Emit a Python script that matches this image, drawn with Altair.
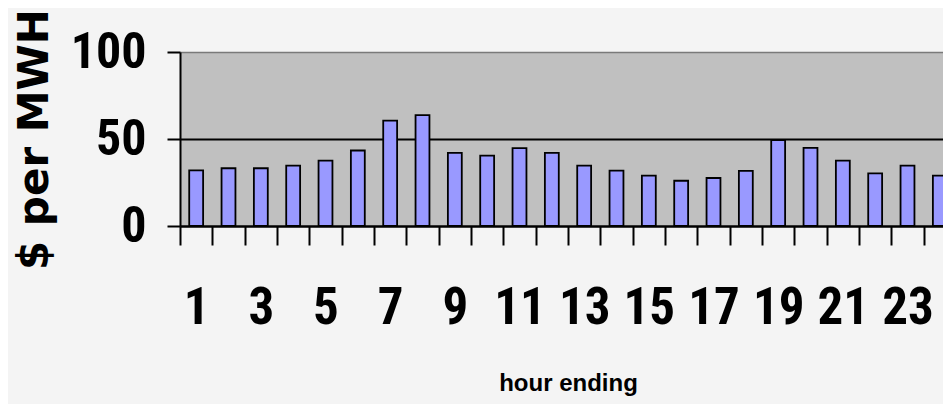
import altair as alt
import pandas as pd

hours = list(range(1, 25))
prices = [32, 33.2, 33.2, 34.7, 37.6, 43.4, 60.6, 63.7, 42, 40.5, 44.7, 42,
          34.7, 31.8, 29, 26, 27.6, 31.7, 49.3, 44.9, 37.6, 30.3, 34.7, 29]
y_ticks = [0, 50, 100]

df = pd.DataFrame({"hour": hours, "price": prices})

narrow = "Roboto Condensed, Liberation Sans Narrow, Arial Narrow, sans-serif"

chart = alt.Chart(df).mark_bar(
    fill="#9999ff", stroke="black", strokeWidth=1.8,
    width=alt.RelativeBandSize(0.43)
).encode(
    x=alt.X("hour:O",
            scale=alt.Scale(range=[0, 776], paddingInner=0, paddingOuter=0),
            axis=alt.Axis(
                title="hour ending",
                titleFont="Liberation Sans, Arial, sans-serif",
                titleFontSize=24, titleFontWeight="bold", titleColor="black",
                titleBaseline="alphabetic", titleAlign="center",
                titleX=388, titleY=164, titleAngle=0,
                labelFont=narrow, labelFontSize=51, labelFontWeight="bold",
                labelColor="black", labelAngle=0, labelPadding=38,
                labelExpr="datum.value % 2 == 1 ? datum.label : ''",
                labelOverlap=False,
                tickBand="extent", tickSize=19, tickWidth=2, tickColor="black",
                domainColor="black", domainWidth=2, grid=False)),
    y=alt.Y("price:Q",
            scale=alt.Scale(domain=[0, 100], nice=False),
            axis=alt.Axis(
                title="$ per MWH",
                titleFont="DejaVu Sans, sans-serif", titleFontSize=42,
                titleFontWeight="bold", titleColor="black",
                titleAngle=270, titleBaseline="alphabetic", titleAlign="center",
                titleX=-133, titleY=87,
                values=y_ticks,
                labelFont=narrow, labelFontSize=50, labelFontWeight="bold",
                labelColor="black", labelPadding=21,
                tickSize=13, tickWidth=2, tickColor="black",
                domainColor="black", domainWidth=2,
                grid=True,
                gridColor=alt.condition("datum.value == 100", alt.value("#7a7a7a"), alt.value("black")),
                gridWidth=alt.condition("datum.value == 100", alt.value(1.5), alt.value(2)),
                gridOpacity=1)),
).properties(
    width=763, height=174,
    autosize=alt.AutoSizeParams(type="none"),
    padding={"left": 172, "top": 44, "right": 0, "bottom": 178},
    background="#f4f4f4",
).configure_view(
    fill="#c0c0c0", strokeWidth=0
)

chart.save("out.html", embed_options={"renderer": "svg", "actions": False})
